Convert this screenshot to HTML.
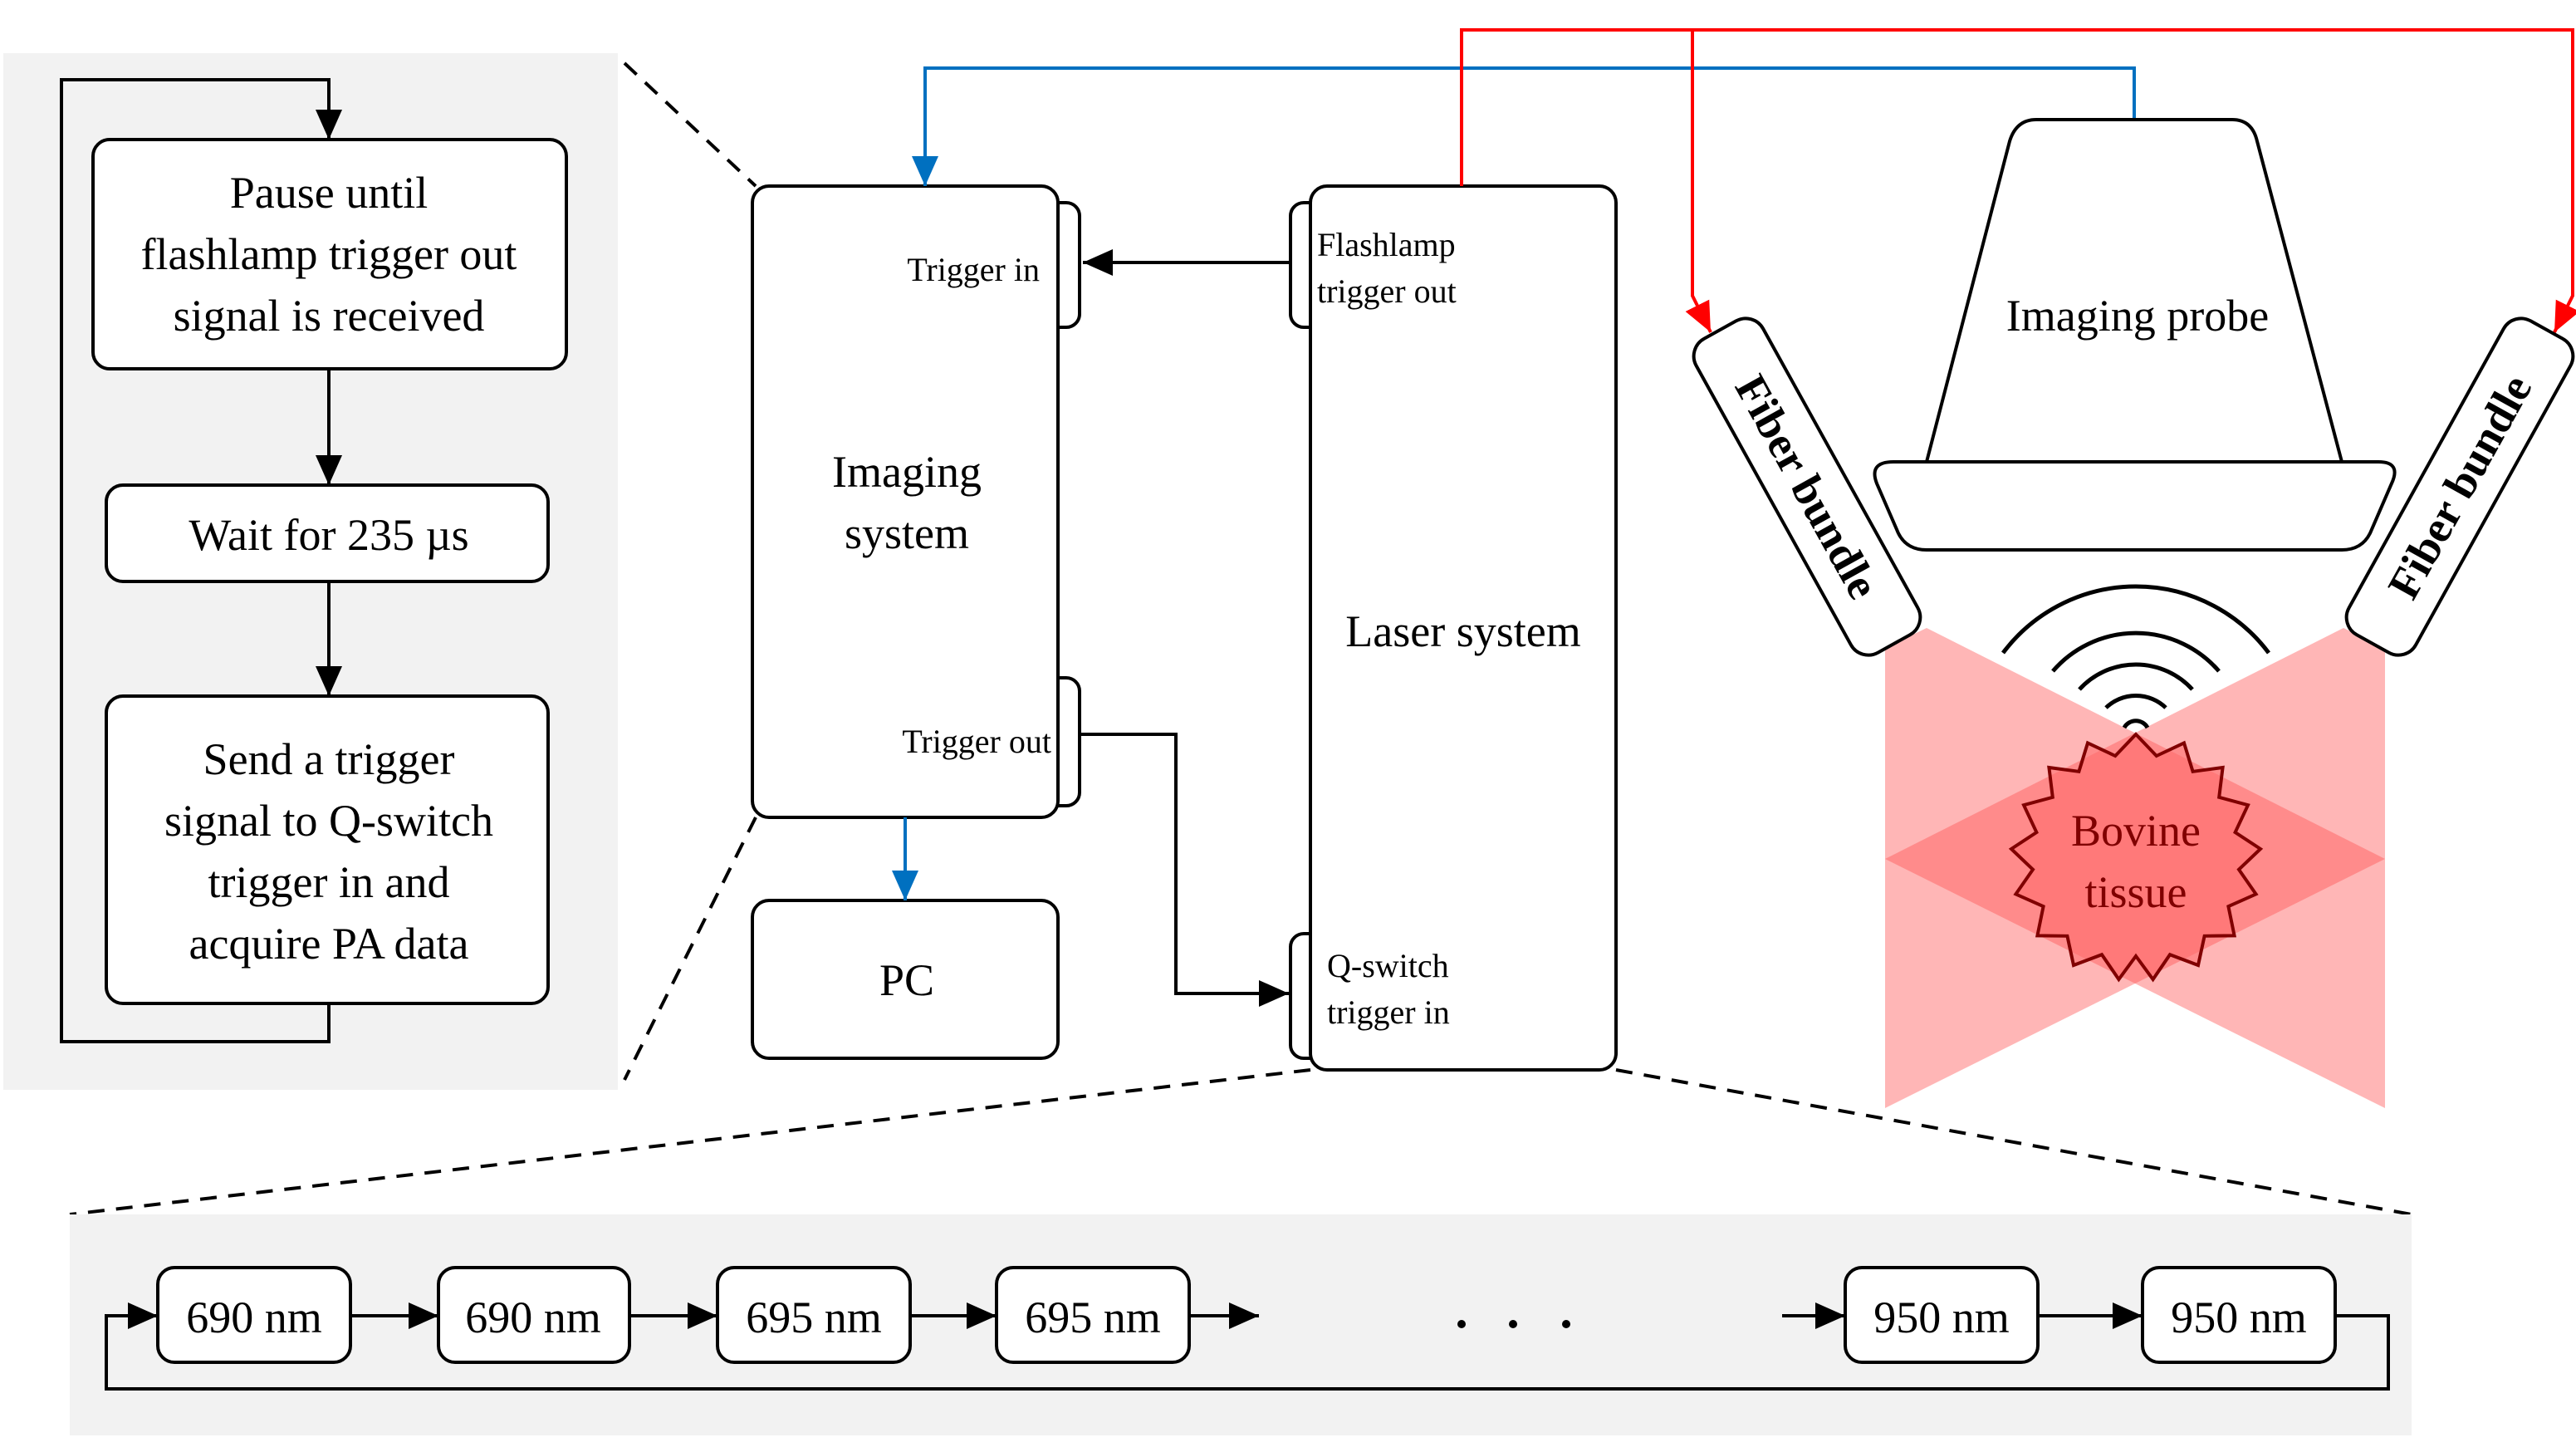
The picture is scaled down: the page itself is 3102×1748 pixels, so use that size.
<!DOCTYPE html>
<html><head><meta charset="utf-8"><style>
html,body{margin:0;padding:0;background:#fff;}
svg{display:block;font-family:"Liberation Serif",serif;}
text{font-family:"Liberation Serif",serif;fill:#000;}
</style></head><body>
<svg width="3102" height="1748" viewBox="0 0 1551 874" xmlns="http://www.w3.org/2000/svg" font-family="Liberation Serif, serif">
<defs>
<marker id="ak" markerUnits="userSpaceOnUse" markerWidth="20" markerHeight="16" refX="18" refY="8" orient="auto"><path d="M0,0 L18,8 L0,16 Z" fill="#000"/></marker>
<marker id="ab" markerUnits="userSpaceOnUse" markerWidth="20" markerHeight="16" refX="18" refY="8" orient="auto"><path d="M0,0 L18,8 L0,16 Z" fill="#0070c0"/></marker>
<marker id="ar" markerUnits="userSpaceOnUse" markerWidth="20" markerHeight="16" refX="18" refY="8" orient="auto"><path d="M0,0 L18,8 L0,16 Z" fill="#f00"/></marker>
</defs>

<rect x="2" y="32" width="370" height="624" fill="#f2f2f2"/>
<g fill="none" stroke="#000" stroke-width="2">
<polyline points="198,604 198,627 37,627 37,48 198,48 198,84" marker-end="url(#ak)"/>
<line x1="198" y1="222" x2="198" y2="292" marker-end="url(#ak)"/>
<line x1="198" y1="350" x2="198" y2="419" marker-end="url(#ak)"/>
</g>
<g fill="#fff" stroke="#000" stroke-width="2">
<rect x="56" y="84" width="285" height="138" rx="10"/>
<rect x="64" y="292" width="266" height="58" rx="10"/>
<rect x="64" y="419" width="266" height="185" rx="10"/>
</g>
<g font-size="27" text-anchor="middle">
<text x="198" y="125">Pause until</text>
<text x="198" y="162">flashlamp trigger out</text>
<text x="198" y="199">signal is received</text>
<text x="198" y="331">Wait for 235 µs</text>
<text x="198" y="466">Send a trigger</text>
<text x="198" y="503">signal to Q-switch</text>
<text x="198" y="540">trigger in and</text>
<text x="198" y="577">acquire PA data</text>
</g>

<g stroke="#000" stroke-width="2" stroke-dasharray="10,7" fill="none">
<line x1="376" y1="38" x2="455" y2="112"/>
<line x1="455" y1="492" x2="376" y2="650"/>
<line x1="789" y1="644" x2="42" y2="731"/>
<line x1="973" y1="644" x2="1452" y2="731"/>
</g>

<g fill="#fff" stroke="#000" stroke-width="2">
<rect x="620" y="122" width="30" height="75" rx="8"/>
<rect x="620" y="408" width="30" height="77" rx="8"/>
<rect x="453" y="112" width="184" height="380" rx="10"/>
<rect x="453" y="542" width="184" height="95" rx="10"/>
<rect x="777" y="122" width="30" height="75" rx="8"/>
<rect x="777" y="562" width="30" height="75" rx="8"/>
<rect x="789" y="112" width="184" height="532" rx="10"/>
</g>
<g font-size="27" text-anchor="middle">
<text x="546" y="293">Imaging</text>
<text x="546" y="330">system</text>
<text x="546" y="599">PC</text>
<text x="881" y="389">Laser system</text>
</g>
<g font-size="20">
<text x="626" y="169" text-anchor="end">Trigger in</text>
<text x="633" y="453" text-anchor="end">Trigger out</text>
<text x="793" y="154">Flashlamp</text>
<text x="793" y="182">trigger out</text>
<text x="799" y="588">Q-switch</text>
<text x="799" y="616">trigger in</text>
</g>
<g fill="none" stroke-width="2">
<line x1="777" y1="158" x2="652" y2="158" stroke="#000" marker-end="url(#ak)"/>
<polyline points="650,442 708,442 708,598 776,598" stroke="#000" marker-end="url(#ak)"/>
<line x1="545" y1="492" x2="545" y2="542" stroke="#0070c0" marker-end="url(#ab)"/>
<polyline points="1285,72 1285,41 557,41 557,112" stroke="#0070c0" marker-end="url(#ab)"/>
<polyline points="880,112 880,18 1549,18 1549,178 1538,200" stroke="#f00" marker-end="url(#ar)"/>
<polyline points="1019,18 1019,178 1030,200" stroke="#f00" marker-end="url(#ar)"/>
</g>

<g fill="rgb(255,80,80)" fill-opacity="0.42">
<polygon points="1135,390 1160,378 1436,517 1436,667 1135,517"/>
<polygon points="1436,390 1411,378 1135,517 1135,667 1436,517"/>
</g>
<polygon fill="rgb(255,110,110)" fill-opacity="0.6" stroke="#800000" stroke-width="2" points="1286.0,442.0 1298.4,455.0 1315.0,447.2 1320.3,464.4 1338.3,462.0 1336.1,479.9 1353.5,484.6 1345.8,501.0 1361.0,511.0 1348.0,523.4 1358.3,538.2 1341.7,545.6 1345.3,563.2 1327.3,563.4 1323.5,581.0 1306.5,574.6 1296.3,589.5 1286.0,575.5 1275.7,589.5 1265.5,574.6 1248.5,581.0 1244.7,563.4 1226.7,563.2 1230.3,545.6 1213.7,538.2 1224.0,523.4 1211.0,511.0 1226.2,501.0 1218.5,484.6 1235.9,479.9 1233.7,462.0 1251.7,464.4 1257.0,447.2 1273.6,455.0"/>
<g font-size="27" text-anchor="middle">
<text x="1286" y="509" style="fill:#800000">Bovine</text>
<text x="1286" y="546" style="fill:#800000">tissue</text>
</g>

<g fill="none" stroke="#000" stroke-width="2.5">
<path d="M1279,438 A8,8 0 0 1 1293,438"/>
<path d="M1268,426 A26,26 0 0 1 1304,426"/>
<path d="M1252,415 A46,46 0 0 1 1320,415"/>
<path d="M1236,404 A66,66 0 0 1 1336,404"/>
<path d="M1206,393 A100,100 0 0 1 1366,393"/>
</g>

<g fill="#fff" stroke="#000" stroke-width="2">
<path d="M1160,278 L1210,85 Q1214,72 1226,72 L1344,72 Q1356,72 1359,85 L1410,278"/>
<path d="M1140,278 L1432,278 Q1446,278 1440,291 L1427,321 Q1422,331 1410,331 L1160,331 Q1148,331 1143,321 L1130,291 Q1125,278 1140,278 Z"/>
</g>
<text x="1287" y="199" font-size="27" text-anchor="middle">Imaging probe</text>

<g transform="translate(1088,293) rotate(61)">
<rect x="-108" y="-23" width="216" height="46" rx="12" fill="#fff" stroke="#000" stroke-width="2"/>
<text x="0" y="9" font-size="27" font-weight="bold" text-anchor="middle">Fiber bundle</text>
</g>
<g transform="translate(1481,293) rotate(-61)">
<rect x="-108" y="-23" width="216" height="46" rx="12" fill="#fff" stroke="#000" stroke-width="2"/>
<text x="0" y="9" font-size="27" font-weight="bold" text-anchor="middle">Fiber bundle</text>
</g>

<rect x="42" y="731" width="1410" height="133" fill="#f2f2f2"/>
<g fill="none" stroke="#000" stroke-width="2">
<polyline points="1406,792 1438,792 1438,836 64,836 64,792 95,792" marker-end="url(#ak)"/>
<line x1="211" y1="792" x2="264" y2="792" marker-end="url(#ak)"/>
<line x1="379" y1="792" x2="432" y2="792" marker-end="url(#ak)"/>
<line x1="548" y1="792" x2="600" y2="792" marker-end="url(#ak)"/>
<line x1="716" y1="792" x2="758" y2="792" marker-end="url(#ak)"/>
<line x1="1073" y1="792" x2="1111" y2="792" marker-end="url(#ak)"/>
<line x1="1227" y1="792" x2="1290" y2="792" marker-end="url(#ak)"/>
</g>
<g fill="#fff" stroke="#000" stroke-width="2">
<rect x="95" y="763" width="116" height="57" rx="10"/>
<rect x="264" y="763" width="115" height="57" rx="10"/>
<rect x="432" y="763" width="116" height="57" rx="10"/>
<rect x="600" y="763" width="116" height="57" rx="10"/>
<rect x="1111" y="763" width="116" height="57" rx="10"/>
<rect x="1290" y="763" width="116" height="57" rx="10"/>
</g>
<g font-size="27" text-anchor="middle">
<text x="153" y="802">690 nm</text>
<text x="321" y="802">690 nm</text>
<text x="490" y="802">695 nm</text>
<text x="658" y="802">695 nm</text>
<text x="1169" y="802">950 nm</text>
<text x="1348" y="802">950 nm</text>
</g>
<g fill="#000">
<circle cx="880" cy="797" r="2.5"/><circle cx="911" cy="797" r="2.5"/><circle cx="943" cy="797" r="2.5"/>
</g>
</svg>
</body></html>
